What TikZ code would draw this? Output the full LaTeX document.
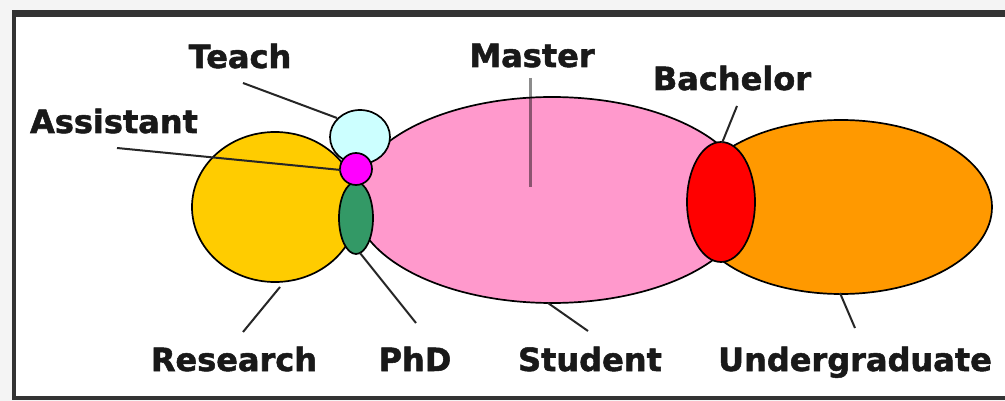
\documentclass[tikz,border=0pt]{standalone}
\usepackage{fontspec}
\setmainfont{DejaVu Sans}
\newfontfamily\lblfont{DejaVu Sans}[BoldFeatures={FakeBold=1.6}]
\usetikzlibrary{shapes.geometric}
\definecolor{cResearch}{HTML}{FFCC00}
\definecolor{cMaster}{HTML}{FF99CC}
\definecolor{cUnder}{HTML}{FF9900}
\definecolor{cTeach}{HTML}{CCFFFF}
\definecolor{cAssist}{HTML}{FF00FF}
\definecolor{cPhD}{HTML}{339966}
\definecolor{cBach}{HTML}{FF0000}
\definecolor{cFrame}{HTML}{333333}
\definecolor{cBack}{HTML}{F4F4F4}
\tikzset{
  blob/.style={ellipse, draw=black, line width=1.7pt, inner sep=0pt},
  lbl/.style={font=\lblfont\fontsize{32}{32}\selectfont\bfseries, anchor=base, inner sep=0pt, text=black!90},
  lead/.style={draw=black!85, line width=2pt},
}
\begin{document}
\begin{tikzpicture}[x=1pt,y=-1pt]
\useasboundingbox (0,0) rectangle (1005,401);
\fill[cBack] (0,0) rectangle (1005,401);
\fill[white] (14,13) rectangle (1010,398);
\draw[cFrame, line width=4pt] (14,13) -- (14,398) -- (1010,398);
\draw[cFrame, line width=7pt] (12,13.5) -- (1010,13.5);

% shapes
\node[blob, fill=cResearch, minimum width=166pt, minimum height=150pt] (research) at (275,207) {};
\node[blob, fill=cMaster, minimum width=396pt, minimum height=206pt] (master) at (552,200) {};
\node[blob, fill=cUnder, minimum width=302pt, minimum height=174pt] (under) at (841,207) {};
\node[blob, fill=cTeach, minimum width=60pt, minimum height=54pt] (teach) at (360,137) {};
\node[blob, fill=cPhD, minimum width=34pt, minimum height=72pt] (phd) at (356,218) {};
\node[blob, fill=cAssist, minimum width=32pt, minimum height=32pt] (assist) at (356,169) {};
\node[blob, fill=cBach, minimum width=68pt, minimum height=120pt] (bach) at (721,202) {};

% labels
\node[lbl] (lTeach) at (240,68) {Teach};
\node[lbl] (lMaster) at (532,67) {Master};
\node[lbl] (lAssist) at (114,133) {Assistant};
\node[lbl] (lBach) at (732,90) {Bachelor};
\node[lbl] (lResearch) at (234,371) {Research};
\node[lbl] (lPhD) at (415,371) {PhD};
\node[lbl] (lStudent) at (590,371) {Student};
\node[lbl] (lUnder) at (855,371) {Undergraduate};

% leader end points
\coordinate (tA) at (243,83);   \coordinate (tB) at (337,118);
\coordinate (aA) at (117,148);  \coordinate (aB) at (341,170);
\coordinate (rA) at (243,332);  \coordinate (rB) at (280,287);
\coordinate (pA) at (416,323);  \coordinate (pB) at (360,253);
\coordinate (mA) at (530,78);   \coordinate (mB) at (530,187);
\coordinate (bA) at (737,106);  \coordinate (bB) at (722,143);
\coordinate (sA) at (588,331);  \coordinate (sB) at (548,303);
\coordinate (uA) at (855,328);  \coordinate (uB) at (840,293);

\draw[lead] (tA) -- (tB);
\draw[lead] (aA) -- (aB);
\draw[lead] (rA) -- (rB);
\draw[lead] (pA) -- (pB);
\draw[draw=black, opacity=0.45, line width=3pt] (mA) -- (mB);
\draw[lead] (bA) -- (bB);
\draw[lead] (sA) -- (sB);
\draw[lead] (uA) -- (uB);
\end{tikzpicture}
\end{document}
